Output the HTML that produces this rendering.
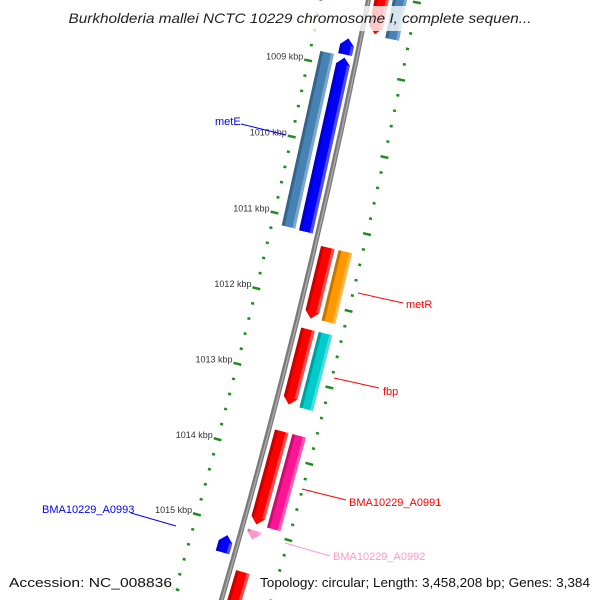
<!DOCTYPE html>
<html><head><meta charset="utf-8"><style>
html,body{margin:0;padding:0;background:#fff;width:600px;height:600px;overflow:hidden}
svg{display:block;font-family:"Liberation Sans",sans-serif;overflow:hidden}
</style></head><body>
<svg id="map" width="600" height="600" viewBox="0 0 600 600" xmlns="http://www.w3.org/2000/svg">
<rect x="0" y="0" width="600" height="600" fill="#fff"/>
<g id="ticks"></g>
<circle cx="-6497" cy="-1366" r="7000" fill="none" stroke="#7a7a7a" stroke-width="5"/>
<circle cx="-6497" cy="-1366" r="7000.5" fill="none" stroke="#a8a8a8" stroke-width="1.5"/>
<g id="features"></g>
<g id="ticklabels" font-size="9" fill="#333"></g>
<g font-size="11">
<line x1="241" y1="124" x2="286" y2="135" stroke="#0000ff" stroke-width="1"/>
<text x="215" y="125" fill="#0000ff">metE</text>
<line x1="358" y1="293" x2="403" y2="303" stroke="#ff0000" stroke-width="1"/>
<text x="406" y="308" fill="#ff0000">metR</text>
<line x1="334" y1="378" x2="379" y2="388" stroke="#ff0000" stroke-width="1"/>
<text x="383" y="395" fill="#ff0000">fbp</text>
<line x1="302" y1="489" x2="346" y2="500" stroke="#ff0000" stroke-width="1"/>
<text x="349" y="506" fill="#ff0000">BMA10229_A0991</text>
<line x1="285" y1="543" x2="330" y2="556" stroke="#ff99cc" stroke-width="1"/>
<text x="333" y="560" fill="#ff99cc">BMA10229_A0992</text>
<line x1="131" y1="513" x2="176" y2="526" stroke="#0000ff" stroke-width="1"/>
<text x="42" y="513" fill="#0000ff">BMA10229_A0993</text>
</g>
<rect x="62" y="6" width="476" height="25" fill="#fff" opacity="0.78"/>
<text x="300" y="23" text-anchor="middle" font-size="14" font-style="italic" fill="#222" textLength="463" lengthAdjust="spacingAndGlyphs">Burkholderia mallei NCTC 10229 chromosome I, complete sequen...</text>
<rect x="4" y="572" width="172" height="20" fill="#fff" opacity="0.85"/>
<text x="9" y="587" font-size="13" fill="#111" textLength="163" lengthAdjust="spacingAndGlyphs">Accession: NC_008836</text>
<rect x="256" y="572" width="338" height="20" fill="#fff" opacity="0.85"/>
<text x="260" y="587" font-size="13" fill="#111" textLength="330" lengthAdjust="spacingAndGlyphs">Topology: circular; Length: 3,458,208 bp; Genes: 3,384</text>
</svg>
<script>
// feature data (kbp)
const featNames  = ['upstream-red','upstream-cog','small-blue','metE-cds','metE-cog','metR-cds','metR-cog','fbp-cds','fbp-cog','a0991-cds','a0991-cog','a0992-cds','a0993-cds','downstream-red'];
const featStart  = [1007.5,1007.5,1008.62,1008.87,1008.85,1011.28,1011.28,1012.35,1012.35,1013.69,1013.69,1015.00,1015.15,1015.55];
const featEnd    = [1008.50,1008.52,1008.83,1011.15,1011.14,1012.21,1012.20,1013.34,1013.34,1014.92,1014.92,1015.12,1015.38,1017.0];
const featRing   = [1,2,-1,-1,-2,1,2,1,2,1,2,1,-1,1];
const featArrow  = [1,0,1,1,0,1,0,1,0,1,0,1,1,1];
const featColor  = ['#ff0000','#4682b4','#0000ff','#0000ff','#4682b4','#ff0000','#ff9900','#ff0000','#00cccc','#ff0000','#ff1493','#ff99cc','#0000ff','#ff0000'];
// tick data
const tickStart = 1007.0, tickEnd = 1017.0, tickStep = 0.2;
const tickLabels = [1009,1010,1011,1012,1013,1014,1015,1016];

const CX=-6497, CY=-1366, R=7000, A0=12.48, DPK=0.642;
function pt(k,r){const p=(A0+DPK*(k-1010))*Math.PI/180;return [CX+r*Math.cos(p),CY+r*Math.sin(p)];}
const NS='http://www.w3.org/2000/svg';
function poly(parent,pts,fill,op){const e=document.createElementNS(NS,'polygon');e.setAttribute('points',pts.map(p=>p[0].toFixed(2)+','+p[1].toFixed(2)).join(' '));e.setAttribute('fill',fill);if(op!==undefined)e.setAttribute('opacity',op);parent.appendChild(e);return e;}

const ringOff={1:13,2:31,'-1':-12,'-2':-30};
const HW=7, AH=0.09;
const fg=document.getElementById('features');
for(let i=0;i<featNames.length;i++){
  const g=document.createElementNS(NS,'g');
  
  
  fg.appendChild(g);
  const rc=R+ringOff[featRing[i]], r0=rc-HW, r1=rc+HW;
  const s=featStart[i], e=featEnd[i], fwd=featRing[i]>0;
  function shape(a,b){
    if(!featArrow[i]) return [pt(s,a),pt(s,b),pt(e,b),pt(e,a)];
    if(fwd) return [pt(s,a),pt(s,b),pt(e-AH,b),pt(e,(a+b)/2),pt(e-AH,a)];
    return [pt(s+AH,a),pt(s,(a+b)/2),pt(s+AH,b),pt(e,b),pt(e,a)];
  }
  poly(g,shape(r0,r1),featColor[i]);
  const sa=s+(featArrow[i]&&!fwd?AH:0), ea=e-(featArrow[i]&&fwd?AH:0);
  poly(g,[pt(sa,r0),pt(sa,r0+3),pt(ea,r0+3),pt(ea,r0)],'#000',0.22);
  poly(g,[pt(sa,r1-3),pt(sa,r1),pt(ea,r1),pt(ea,r1-3)],'#fff',0.3);
}

const tg=document.getElementById('ticks');
const n=Math.round((tickEnd-tickStart)/tickStep);
for(let j=0;j<=n;j++){
  const k=tickStart+j*tickStep, major=Math.abs(k-Math.round(k))<1e-6;
  [-47,48].forEach(off=>{
    const len=major?4:1.5;
    const a=pt(k,R+off-len), b=pt(k,R+off+len);
    const l=document.createElementNS(NS,'line');
    
    
    l.setAttribute('x1',a[0]);l.setAttribute('y1',a[1]);l.setAttribute('x2',b[0]);l.setAttribute('y2',b[1]);
    l.setAttribute('stroke','#1e8c1e');l.setAttribute('stroke-width',2.5);
    tg.appendChild(l);
  });
}
const lg=document.getElementById('ticklabels');
tickLabels.forEach(k=>{
  const p=pt(k,R-52);
  const t=document.createElementNS(NS,'text');
  
  
  t.setAttribute('x',p[0]);t.setAttribute('y',p[1]);t.setAttribute('text-anchor','end');
  t.textContent=k+' kbp';
  lg.appendChild(t);
});
</script>
</body></html>
